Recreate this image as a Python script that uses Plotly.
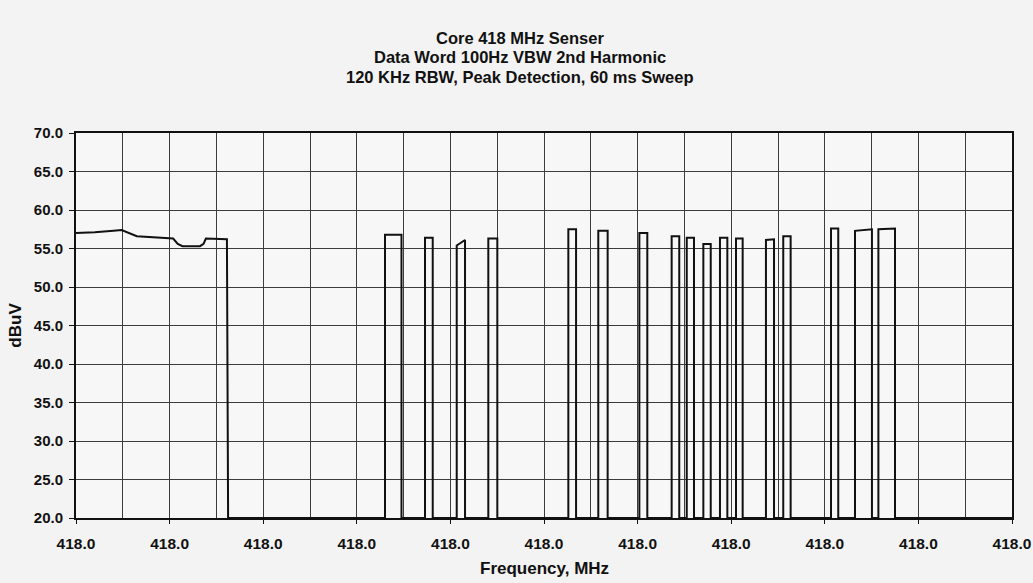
import plotly.graph_objects as go

# ---- data (frequency in MHz, level in dBuV) ----
# continuous portion at the start of the sweep
seg_freq = [417.9600, 417.9616, 417.9632, 417.9639, 417.9652, 417.9663, 417.9678,
            417.9683, 417.9687, 417.9691, 417.9706, 417.9709, 417.9711, 417.9729,
            417.9730]
seg_level = [57.0, 57.1, 57.3, 57.4, 56.6, 56.5, 56.4,
             56.3, 55.6, 55.3, 55.3, 55.6, 56.3, 56.2,
             20.0]

# individual bursts: start / stop frequency and level at left / right of top
pulse_start = [417.98641, 417.98983, 417.99254, 417.99524, 418.00208, 418.00464,
               418.00815, 418.01091, 418.01220, 418.01362, 418.01504, 418.01641,
               418.01897, 418.02045, 418.02453, 418.02658, 418.02858]
pulse_stop = [417.98782, 417.99049, 417.99325, 417.99601, 418.00274, 418.00544,
              418.00883, 418.01156, 418.01282, 418.01425, 418.01567, 418.01698,
              418.01966, 418.02108, 418.02515, 418.02803, 418.03000]
pulse_top_left = [56.8, 56.4, 55.4, 56.3, 57.5, 57.3, 57.0, 56.6, 56.4, 55.6, 56.4,
                  56.3, 56.1, 56.6, 57.6, 57.3, 57.5]
pulse_top_right = [56.8, 56.4, 56.1, 56.3, 57.5, 57.3, 57.0, 56.6, 56.4, 55.6, 56.4,
                   56.3, 56.2, 56.6, 57.6, 57.5, 57.6]

floor_level = 20.0
sweep_end = 418.04

y_ticks_fmt = ".1f"
x_ticks_fmt = ".1f"

# ---- build trace ----
xs = list(seg_freq)
ys = list(seg_level)
for s, e, tl, tr in zip(pulse_start, pulse_stop, pulse_top_left, pulse_top_right):
    xs += [s, s, e, e]
    ys += [floor_level, tl, tr, floor_level]
xs.append(sweep_end)
ys.append(floor_level)

fig = go.Figure()
fig.add_trace(go.Scatter(x=xs, y=ys, mode="lines",
                         line=dict(color="#111111", width=2),
                         showlegend=False, hoverinfo="skip"))

font_family = "Liberation Sans, Arial, sans-serif"
grid_col = "#3c3c3c"
bg = "#f3f3f3"

fig.update_layout(
    width=1033, height=583,
    margin=dict(l=76, r=21, t=133, b=65, autoexpand=False),
    paper_bgcolor=bg,
    plot_bgcolor="#f7f7f7",
    font=dict(family=font_family, color="#111111", size=15),
    showlegend=False,
)

fig.update_xaxes(
    range=[417.96, 418.04],
    tick0=417.96, dtick=0.008,
    tickformat=x_ticks_fmt,
    showgrid=True, gridcolor=grid_col, gridwidth=1,
    minor=dict(dtick=0.004, tick0=417.96, showgrid=True, gridcolor=grid_col, gridwidth=1),
    ticks="outside", ticklen=4, tickcolor="#111111",
    ticklabelstandoff=6,
    tickfont=dict(family=font_family, size=15.5, weight="bold"),
    showline=True, linecolor="#111111", linewidth=2, mirror=True,
    zeroline=False, automargin=False,
)
fig.update_yaxes(
    range=[20, 70], dtick=5, tick0=20,
    tickformat=y_ticks_fmt,
    showgrid=True, gridcolor=grid_col, gridwidth=1,
    ticks="outside", ticklen=5, tickcolor="#111111",
    ticklabelstandoff=3,
    tickfont=dict(family=font_family, size=15, weight="bold"),
    showline=True, linecolor="#111111", linewidth=2, mirror=True,
    zeroline=False, automargin=False,
)

title_lines = ["Core 418 MHz Senser",
               "Data Word 100Hz VBW 2nd Harmonic",
               "120 KHz RBW, Peak Detection, 60 ms Sweep"]
title_y = [1.247, 1.197, 1.145]
for t, yy in zip(title_lines, title_y):
    fig.add_annotation(text="<b>%s</b>" % t, xref="paper", yref="paper",
                       x=0.474, y=yy, xanchor="center", yanchor="middle",
                       showarrow=False, font=dict(family=font_family, size=16.5, color="#111111"))

fig.add_annotation(text="<b>Frequency, MHz</b>", xref="paper", yref="paper",
                   x=0.501, y=-0.13, xanchor="center", yanchor="middle",
                   showarrow=False, font=dict(family=font_family, size=17, color="#111111"))
fig.add_annotation(text="<b>dBuV</b>", xref="paper", yref="paper",
                   x=-0.065, y=0.5, xanchor="center", yanchor="middle", textangle=-90,
                   showarrow=False, font=dict(family=font_family, size=17, color="#111111"))

fig.write_html(
    "out.html",
    config={"displayModeBar": False},
    post_script="document.body.style.margin='0';document.body.style.background='%s';"
                "document.body.style.overflow='hidden';" % bg,
)
